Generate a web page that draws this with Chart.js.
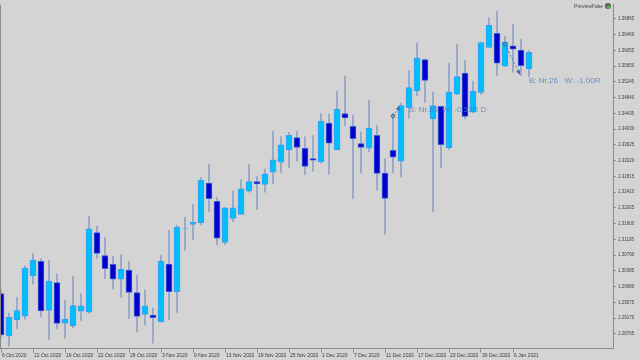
<!DOCTYPE html>
<html><head><meta charset="utf-8">
<script src="https://cdn.jsdelivr.net/npm/chart.js@4/dist/chart.umd.min.js"></script>
<style>html,body{margin:0;padding:0;background:#d4d4d4;}canvas{display:block;}</style>
</head><body>
<canvas id="c" width="640" height="360"></canvas>
<script>
const dates = ["6 Oct 2020","7 Oct 2020","8 Oct 2020","9 Oct 2020","12 Oct 2020","13 Oct 2020","14 Oct 2020","15 Oct 2020","16 Oct 2020","19 Oct 2020","20 Oct 2020","21 Oct 2020","22 Oct 2020","23 Oct 2020","26 Oct 2020","27 Oct 2020","28 Oct 2020","29 Oct 2020","30 Oct 2020","2 Nov 2020","3 Nov 2020","4 Nov 2020","5 Nov 2020","6 Nov 2020","9 Nov 2020","10 Nov 2020","11 Nov 2020","12 Nov 2020","13 Nov 2020","16 Nov 2020","17 Nov 2020","18 Nov 2020","19 Nov 2020","20 Nov 2020","23 Nov 2020","24 Nov 2020","25 Nov 2020","26 Nov 2020","27 Nov 2020","30 Nov 2020","1 Dec 2020","2 Dec 2020","3 Dec 2020","4 Dec 2020","7 Dec 2020","8 Dec 2020","9 Dec 2020","10 Dec 2020","11 Dec 2020","14 Dec 2020","15 Dec 2020","16 Dec 2020","17 Dec 2020","18 Dec 2020","21 Dec 2020","22 Dec 2020","23 Dec 2020","24 Dec 2020","28 Dec 2020","29 Dec 2020","30 Dec 2020","31 Dec 2020","4 Jan 2021","5 Jan 2021","6 Jan 2021","7 Jan 2021","8 Jan 2021"];
const opens = [1.29805,1.28715,1.29131,1.29222,1.30254,1.30634,1.29366,1.30084,1.29044,1.28978,1.29349,1.29323,1.31370,1.30779,1.30551,1.30170,1.30406,1.29830,1.29265,1.29247,1.29080,1.30558,1.29848,1.31462,1.31580,1.31623,1.32645,1.32174,1.31116,1.31732,1.31834,1.32435,1.32681,1.32605,1.32925,1.33178,1.33492,1.33812,1.33533,1.33272,1.33188,1.34185,1.33500,1.34431,1.34101,1.33660,1.33543,1.33873,1.32899,1.33482,1.33203,1.34583,1.35014,1.35815,1.34294,1.34616,1.33551,1.34928,1.35470,1.34464,1.34971,1.36130,1.36493,1.35648,1.36171,1.36061,1.35580];
const highs = [1.29899,1.29298,1.29704,1.30515,1.30830,1.30693,1.30652,1.30305,1.29628,1.30254,1.29798,1.31783,1.31530,1.31243,1.30754,1.30804,1.30634,1.30279,1.29891,1.29435,1.30787,1.31421,1.31560,1.31768,1.32088,1.32790,1.33127,1.32283,1.32010,1.32443,1.32732,1.33120,1.32808,1.33000,1.33982,1.33830,1.33949,1.33982,1.33830,1.33863,1.34431,1.34413,1.35014,1.35402,1.34388,1.33957,1.34776,1.34134,1.33272,1.34439,1.34692,1.35537,1.36257,1.35833,1.34989,1.34620,1.35724,1.36214,1.35790,1.35265,1.36265,1.36891,1.37058,1.36424,1.36721,1.36340,1.36044];
const lows = [1.28681,1.28453,1.28902,1.29138,1.30044,1.29197,1.28623,1.28902,1.28656,1.28928,1.29113,1.29298,1.30703,1.30186,1.29917,1.29704,1.29156,1.28808,1.28986,1.28529,1.29070,1.29138,1.29316,1.30921,1.31185,1.31560,1.31902,1.31058,1.31058,1.31649,1.31830,1.32410,1.31961,1.32410,1.32630,1.32917,1.33036,1.33214,1.32859,1.32950,1.33153,1.32874,1.33492,1.34116,1.32240,1.32891,1.33442,1.32453,1.31337,1.32899,1.32798,1.34312,1.34887,1.34717,1.31902,1.33044,1.33508,1.34920,1.34294,1.34455,1.34920,1.36125,1.35410,1.35640,1.35496,1.35410,1.35377];
const closes = [1.28740,1.29189,1.29366,1.30457,1.30660,1.29359,1.30120,1.29037,1.29146,1.29493,1.29486,1.31464,1.30837,1.30439,1.30170,1.30424,1.29830,1.29214,1.29486,1.29181,1.30634,1.29848,1.31509,1.31466,1.31631,1.32722,1.32240,1.31225,1.32004,1.32004,1.32493,1.32681,1.32618,1.32879,1.33239,1.33627,1.33873,1.33558,1.33069,1.33229,1.34236,1.33670,1.34540,1.34319,1.33787,1.33558,1.34058,1.32891,1.32250,1.33310,1.34634,1.35098,1.35859,1.35283,1.34634,1.33627,1.34989,1.35377,1.34355,1.35004,1.36257,1.36695,1.35724,1.36272,1.36087,1.35663,1.36003];
const priceTicks = [1.28765,1.29170,1.29575,1.29980,1.30385,1.30790,1.31195,1.31600,1.32005,1.32410,1.32815,1.33220,1.33625,1.34030,1.34435,1.34840,1.35245,1.35650,1.36055,1.36460,1.36865];
const dateTickIndex = [0,4,8,12,16,20,24,28,32,36,40,44,48,52,56,60,64];
const tradeLabels = ["S: Nr.20  W: -0.33R D","B: Nr.26   W: -1.00R"];
const tradeEntryIndex = [49,63];
const tradeEntryPrice = [1.34362,1.36214];
const tradeExitIndex = [50,65];
const tradeExitPrice = [1.34616,1.35430];

const FONT = "'Liberation Sans', Arial, sans-serif";
const bullFill = '#00bfff', bullEdge = '#3d9ef0', bearFill = '#0000cc', bearEdge = '#3a5fd6', wickCol = '#8ea2c6';

const bgPlugin = {
  id: 'bg',
  beforeDraw(chart) {
    const c = chart.ctx;
    c.save(); c.fillStyle = '#d4d4d4'; c.fillRect(0, 0, chart.width, chart.height); c.restore();
  },
  afterDraw(chart) {
    const c = chart.ctx, a = chart.chartArea;
    c.save();
    c.strokeStyle = '#8a8a8a'; c.lineWidth = 1;
    c.beginPath(); c.moveTo(a.left + 0.5, a.top); c.lineTo(a.left + 0.5, a.bottom); c.stroke();
    c.font = '5px ' + FONT; c.fillStyle = '#444'; c.textAlign = 'right'; c.textBaseline = 'middle';
    c.fillText('PreviewFake', a.right - 10, 7);
    c.fillStyle = '#5a5a5a'; c.beginPath(); c.arc(a.right - 5, 6, 3, 0, Math.PI * 2); c.fill();
    c.fillStyle = '#3cc23c'; c.beginPath(); c.arc(a.right - 4.5, 7, 1.8, 0, Math.PI * 2); c.fill();
    c.restore();
  }
};

const tradePlugin = {
  id: 'trades',
  afterDatasetsDraw(chart) {
    const c = chart.ctx, xs = chart.scales.x, ys = chart.scales.y;
    c.save();
    for (let t = 0; t < tradeLabels.length; t++) {
      const x1 = xs.getPixelForValue(tradeEntryIndex[t]), y1 = ys.getPixelForValue(tradeEntryPrice[t]);
      const x2 = xs.getPixelForValue(tradeExitIndex[t]) - 1, y2 = ys.getPixelForValue(tradeExitPrice[t]);
      c.strokeStyle = 'rgba(80,110,160,0.9)'; c.lineWidth = 1; c.setLineDash([2, 2]);
      c.beginPath(); c.moveTo(x1, y1); c.lineTo(x2, y2); c.stroke();
      c.setLineDash([]);
      const ang = Math.atan2(y2 - y1, x2 - x1), s = 5;
      c.fillStyle = 'rgba(70,100,150,0.95)';
      c.beginPath(); c.moveTo(x2, y2);
      c.lineTo(x2 - s * Math.cos(ang - 0.45), y2 - s * Math.sin(ang - 0.45));
      c.lineTo(x2 - s * Math.cos(ang + 0.45), y2 - s * Math.sin(ang + 0.45));
      c.closePath(); c.fill();
      c.strokeStyle = 'rgba(70,100,150,0.95)';
      c.beginPath(); c.arc(x1, y1, 1.8, 0, Math.PI * 2); c.stroke();
      c.font = '8px ' + FONT; c.fillStyle = 'rgba(80,130,195,0.85)';
      c.textAlign = 'left'; c.textBaseline = 'middle';
      c.fillText(tradeLabels[t], x2 + 9, y2 + (t === 0 ? 3 : 6));
    }
    c.restore();
  }
};

const wickData = dates.map((d, i) => ({ x: i, y: [lows[i], highs[i]] }));
const bodyData = dates.map((d, i) => ({ x: i, y: [opens[i], closes[i]] }));
const bodyFill = closes.map((c, i) => c >= opens[i] ? bullFill : bearFill);
const bodyEdge = closes.map((c, i) => c >= opens[i] ? bullEdge : bearEdge);

new Chart(document.getElementById('c'), {
  type: 'bar',
  data: {
    datasets: [
      { label: 'wick', data: wickData, backgroundColor: wickCol, borderWidth: 0, barThickness: 1, grouped: false, order: 2 },
      { label: 'body', data: bodyData, backgroundColor: bodyFill, borderColor: bodyEdge, borderWidth: 1, borderSkipped: false, barThickness: 6, grouped: false, order: 1 }
    ]
  },
  options: {
    responsive: false, animation: false, devicePixelRatio: 1,
    layout: { padding: 0 },
    plugins: { legend: { display: false }, tooltip: { enabled: false } },
    scales: {
      x: {
        type: 'linear', min: -0.125, max: 76.5, offset: false, bounds: 'data',
        afterBuildTicks: s => { s.ticks = dateTickIndex.map(v => ({ value: v })); },
        afterFit: s => { s.height = 11.5; },
        ticks: { autoSkip: false, maxRotation: 0, minRotation: 0, align: 'start', padding: 0, labelOffset: 1,
          font: { family: FONT, size: 5 }, color: '#3a3a3a', callback: v => dates[v] },
        grid: { display: true, offset: false, drawOnChartArea: false, drawTicks: true, tickLength: 4, color: '#8a8a8a' },
        border: { display: true, color: '#8a8a8a', width: 1 }
      },
      y: {
        type: 'linear', position: 'right', min: 1.28390, max: 1.37228, beginAtZero: false, bounds: 'data',
        afterBuildTicks: s => { s.ticks = priceTicks.map(v => ({ value: v })); },
        afterFit: s => { s.width = 27; },
        ticks: { padding: 2, font: { family: FONT, size: 4.5 }, color: '#404040', callback: v => Number(v).toFixed(5) },
        grid: { display: true, drawOnChartArea: false, drawTicks: true, tickLength: 3, color: '#8a8a8a' },
        border: { display: true, color: '#8a8a8a', width: 1 }
      }
    }
  },
  plugins: [bgPlugin, tradePlugin]
});
</script>
</body></html>
